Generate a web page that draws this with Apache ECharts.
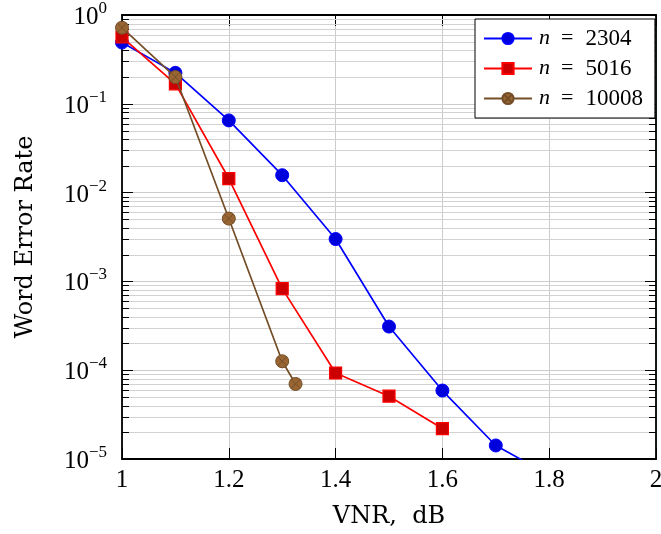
<!DOCTYPE html>
<html>
<head>
<meta charset="utf-8">
<script src="https://cdn.jsdelivr.net/npm/echarts@6/dist/echarts.min.js"></script>
<style>html,body{margin:0;padding:0;background:#fff}#c{width:661px;height:534px}</style>
</head>
<body>
<div id="c"></div>
<script>
// ---- data ----
const xTickLabels = ['1', '1.2', '1.4', '1.6', '1.8', '2'];
const yDecades = [-5, -4, -3, -2, -1, 0];
const seriesNames = ['n = 2304', 'n = 5016', 'n = 10008'];
const vnr2304 = [1.0, 1.1, 1.2, 1.3, 1.4, 1.5, 1.6, 1.7, 1.8];
const wer2304 = [0.49, 0.223, 0.065, 0.0157, 0.0030, 0.00031, 0.000059, 0.0000142, 0.0000066];
const vnr5016 = [1.0, 1.1, 1.2, 1.3, 1.4, 1.5, 1.6];
const wer5016 = [0.565, 0.168, 0.0144, 0.00083, 0.000093, 0.000051, 0.000022];
const vnr10008 = [1.0, 1.1, 1.2, 1.3, 1.325];
const wer10008 = [0.72, 0.20, 0.0051, 0.000126, 0.000070];
const minorMantissas = [2, 3, 4, 5, 6, 7, 8, 9];

const FONT = '"Liberation Serif", "DejaVu Serif", serif';
const NAMEFONT = '"DejaVu Serif", "Liberation Serif", serif';
const pair = (xs, ys) => xs.map((x, i) => [x, ys[i]]);
const minorValues = [];
yDecades.slice(0, -1).forEach(d => minorMantissas.forEach(m => minorValues.push([1, m * Math.pow(10, d)])));

const otimes = 'path://M0,-10 A10,10 0 1,1 0,10 A10,10 0 1,1 0,-10 Z M-7.07,-7.07 L7.07,7.07 M-7.07,7.07 L7.07,-7.07';

const chart = echarts.init(document.getElementById('c'), null, {renderer: 'canvas'});
const axisLineStyle = {color: '#000', width: 1.8};
const option = {
  animation: false,
  backgroundColor: '#fff',
  grid: {left: 122, right: 5, top: 15, bottom: 75, containLabel: false, outerBoundsMode: 'none'},
  legend: {
    data: seriesNames,
    orient: 'vertical',
    left: 475, top: 19,
    itemWidth: 48, itemHeight: 14, itemGap: 7,
    padding: [8, 12, 8, 8],
    backgroundColor: '#fff',
    borderColor: '#000', borderWidth: 1,
    formatter: function (name) { return '{i|n}{e|=}{t|' + name.split('= ')[1] + '}'; },
    textStyle: {
      fontFamily: FONT, fontSize: 22, color: '#000',
      rich: {
        i: {fontFamily: FONT, fontStyle: 'italic', fontSize: 22, color: '#000', padding: [0, 0, 0, 2]},
        e: {fontFamily: FONT, fontSize: 22, color: '#000', padding: [0, 12, 0, 11]},
        t: {fontFamily: FONT, fontSize: 23, color: '#000'}
      }
    }
  },
  xAxis: [{
    type: 'value', min: 1, max: 2, interval: 0.2,
    name: 'VNR,  dB', nameLocation: 'middle', nameGap: 46,
    nameTextStyle: {fontFamily: NAMEFONT, fontSize: 24, color: '#000'},
    axisLine: {lineStyle: axisLineStyle},
    axisTick: {inside: true, length: 11, lineStyle: {color: '#000', width: 1}},
    axisLabel: {
      margin: 9, fontFamily: FONT, fontSize: 25, color: '#000',
      formatter: function (v) { return xTickLabels[Math.round((v - 1) / 0.2)]; }
    },
    splitLine: {show: true, lineStyle: {color: '#cccccc', width: 1}}
  }, {
    type: 'value', min: 1, max: 2, interval: 0.2, position: 'top',
    axisLine: {lineStyle: axisLineStyle},
    axisTick: {inside: true, length: 11, lineStyle: {color: '#000', width: 1}},
    axisLabel: {show: false},
    splitLine: {show: false}
  }],
  yAxis: [{
    type: 'log', logBase: 10, min: 1e-5, max: 1, interval: 1,
    name: 'Word Error Rate', nameLocation: 'middle', nameGap: 84,
    nameTextStyle: {fontFamily: NAMEFONT, fontSize: 24, color: '#000'},
    axisLine: {lineStyle: axisLineStyle},
    axisTick: {inside: true, length: 11, lineStyle: {color: '#000', width: 1}},
    axisLabel: {
      margin: 15, fontFamily: FONT, color: '#000',
      formatter: function (v) {
        const e = Math.round(Math.log10(v));
        return '{b|10}{s|' + (e < 0 ? '\u2212' + (-e) : e) + '}';
      },
      rich: {
        b: {fontFamily: FONT, fontSize: 25, color: '#000', lineHeight: 30, verticalAlign: 'bottom'},
        s: {fontFamily: FONT, fontSize: 17, color: '#000', verticalAlign: 'top'}
      }
    },
    splitLine: {show: true, lineStyle: {color: '#cccccc', width: 1}}
  }, {
    type: 'log', logBase: 10, min: 1e-5, max: 1, interval: 1, position: 'right',
    axisLine: {lineStyle: axisLineStyle},
    axisTick: {inside: true, length: 11, lineStyle: {color: '#000', width: 1}},
    axisLabel: {show: false},
    splitLine: {show: false}
  }],
  series: [{
    name: 'minor', type: 'custom', silent: true, z: 1,
    xAxisIndex: 0, yAxisIndex: 0,
    data: minorValues,
    renderItem: function (params, api) {
      const y = Math.round(api.coord([1, api.value(1)])[1]) + 0.5;
      const cs = params.coordSys;
      const x0 = cs.x, x1 = cs.x + cs.width;
      return {type: 'group', children: [
        {type: 'line', shape: {x1: x0, y1: y, x2: x1, y2: y}, style: {stroke: '#d2d2d2', lineWidth: 1}},
        {type: 'line', shape: {x1: x0, y1: y, x2: x0 + 7, y2: y}, style: {stroke: '#000', lineWidth: 1}},
        {type: 'line', shape: {x1: x1 - 7, y1: y, x2: x1, y2: y}, style: {stroke: '#000', lineWidth: 1}}
      ]};
    }
  }, {
    name: seriesNames[0], type: 'line', data: pair(vnr2304, wer2304), clip: true, z: 3,
    symbol: 'circle', symbolSize: 13,
    lineStyle: {color: '#0000ff', width: 1.7},
    itemStyle: {color: '#0000dd', borderColor: '#0000ff', borderWidth: 1}
  }, {
    name: seriesNames[1], type: 'line', data: pair(vnr5016, wer5016), clip: true, z: 4,
    symbol: 'rect', symbolSize: 12,
    lineStyle: {color: '#ff0000', width: 1.7},
    itemStyle: {color: '#cc0000', borderColor: '#ff0000', borderWidth: 1.2}
  }, {
    name: seriesNames[2], type: 'line', data: pair(vnr10008, wer10008), clip: true, z: 5,
    symbol: otimes, symbolSize: 13, symbolKeepAspect: true,
    lineStyle: {color: '#734d26', width: 1.7},
    itemStyle: {color: '#996633', borderColor: '#734d26', borderWidth: 1}
  }]
};
chart.setOption(option);
</script>
</body>
</html>
